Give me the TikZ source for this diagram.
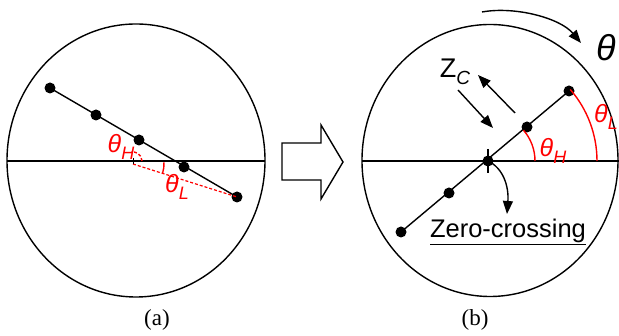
\documentclass[tikz,border=0pt]{standalone}
\usepackage{fontspec}
\setmainfont{Liberation Serif}
\setsansfont{Liberation Sans}
\usepackage{tikz}
\usetikzlibrary{arrows.meta}
\newcommand{\thsub}[2][25pt]{{\fontsize{#1}{#1}\selectfont\itshape θ\raisebox{-0.25em}{\fontsize{18pt}{18pt}\selectfont #2}}}

\begin{document}
\begin{tikzpicture}[x=1pt, y=1pt,
  dot/.style={circle, fill=black, inner sep=0pt, minimum size=11pt},
  lbl/.style={font=\sffamily, inner sep=0pt},
  rlbl/.style={lbl, text=red},
  panelcap/.style={font=\fontsize{23pt}{23pt}\selectfont, inner sep=0pt},
  ln/.style={line width=1.4pt},
  rarc/.style={red, line width=1.4pt},
  arr/.style={-{Triangle[length=13pt, width=10pt]}, line width=1.4pt}
]
\useasboundingbox (0,0) rectangle (619,336);

% Panel (a)
\draw[ln] (136,175.5) ellipse [x radius=129, y radius=136.5];
\draw[ln] (7,175) -- (265,175);
\node[dot] (a1) at (50,248) {};
\node[dot] (a2) at (96,221) {};
\node[dot] (a3) at (139,196) {};
\node[dot] (a4) at (184,169) {};
\node[dot] (a5) at (237,139) {};
\draw[ln] (a1.center) -- (a5.center);
\coordinate (ao) at (133,172);
\draw[red, line width=1.2pt, densely dashed] (ao) -- (a5.center);
\draw[line width=1pt] (133,178) -- (ao);
\draw[rarc, densely dashed] (142,175) arc [start angle=0, end angle=100, radius=9];
\draw[rarc] (ao) ++(3:31) arc [start angle=3, end angle=-17, radius=31];
\node[rlbl] (aH) at (121,189) {\thsub{H}};
\node[rlbl] (aL) at (177,149) {\thsub{L}};
\node[panelcap] (capa) at (157,16) {(a)};

% Block arrow
\draw[ln] (282,193) -- (321,193) -- (321,211) -- (343,174)
  -- (321,137) -- (321,156) -- (282,156) -- cycle;

% Panel (b)
\draw[ln] (490,175.5) ellipse [x radius=128, y radius=136];
\draw[ln] (362,175) -- (620,175);
\node[dot] (b1) at (401,104) {};
\node[dot] (b2) at (449,143) {};
\node[dot] (b3) at (488,175) {};
\node[dot] (b4) at (527,209) {};
\node[dot] (b5) at (569,245) {};
\draw[ln] (b1.center) -- (b5.center);
\draw[line width=1.1pt] (488,187) -- (488,163);
\draw[rarc] (535,175) arc [start angle=0, end angle=41, radius=47];
\draw[rarc] (597,175) arc [start angle=0, end angle=41, radius=109];
\node[rlbl] (bH) at (553,185) {\thsub{H}};
\node[rlbl] (bL) at (606,219) {\thsub{L}};

% Z_C and its arrows
\node[lbl] (zc) at (455,264) {\fontsize{27pt}{27pt}\selectfont Z\raisebox{-0.25em}{\fontsize{19pt}{19pt}\selectfont\itshape C}};
\coordinate (zin) at (458,246);
\coordinate (zout) at (515,223);
\draw[arr] (zin) -- (493,208);
\draw[arr] (zout) -- (478,261);

% Zero-crossing
\node[lbl, anchor=base] (zero) at (508,98)
  {\fontsize{25.5pt}{25.5pt}\selectfont\underline{Zero-crossing}};
\draw[arr] (b3.center) .. controls (503,168) and (509,150) .. (507,122);

% Rotation
\coordinate (rs) at (482,324);
\node[lbl] (th) at (606,288) {\fontsize{36pt}{36pt}\selectfont\itshape θ};
\draw[arr] (rs) .. controls (515,330) and (560,318) .. (581,293);

\node[panelcap] (capb) at (475,16) {(b)};
\end{tikzpicture}
\end{document}
